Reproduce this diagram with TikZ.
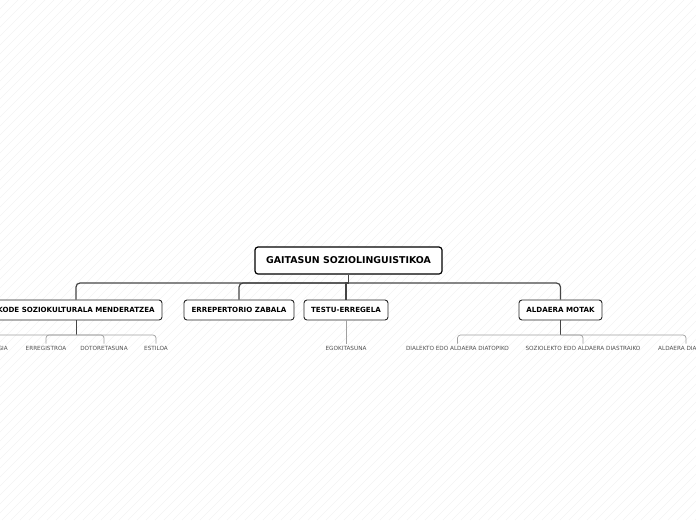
\documentclass[tikz,border=0pt]{standalone}
\usepackage{fontspec}
\setmainfont{DejaVu Sans}
\definecolor{conndark}{HTML}{454545}
\definecolor{connlight}{HTML}{A0A0A0}
\definecolor{leaftext}{HTML}{505050}
\definecolor{hatch}{HTML}{F3F3F3}
\begin{document}
\begin{tikzpicture}[x=1pt,y=1pt,
  rootbox/.style={draw=black, fill=white, rounded corners=3pt, line width=1.2pt,
    font=\fontsize{9.4}{11}\selectfont\bfseries, minimum height=27pt, inner sep=0pt},
  childbox/.style={draw=black!85, fill=white, rounded corners=3pt, line width=0.9pt,
    font=\fontsize{7.1}{8.5}\selectfont\bfseries, minimum height=20pt, inner sep=0pt},
  leaf/.style={font=\fontsize{5.7}{7}\selectfont, text=leaftext, inner sep=2.5pt},
  mainconn/.style={draw=conndark, line width=1.2pt, rounded corners=4pt},
  subconn/.style={draw=connlight, line width=0.7pt, rounded corners=3pt}]
\useasboundingbox (0,0) rectangle (696,-520);
\begin{scope}
\clip (0,0) rectangle (696,-520);
\foreach \i in {0,9,...,1220} {
  \draw[hatch, line width=0.4pt] (\i-520,-520) -- (\i,0);
}
\end{scope}
% nodes
\node[rootbox, minimum width=187pt] (root) at (348.5,-260.5) {GAITASUN SOZIOLINGUISTIKOA};
\node[childbox, minimum width=172pt] (c1) at (76,-310) {KODE SOZIOKULTURALA MENDERATZEA};
\node[childbox, minimum width=110pt] (c2) at (239,-310) {ERREPERTORIO ZABALA};
\node[childbox, minimum width=84pt] (c3) at (346,-310) {TESTU-ERREGELA};
\node[childbox, minimum width=83pt] (c4) at (560.5,-310) {ALDAERA MOTAK};
% leaves
\node[leaf, anchor=east] (l0) at (10.5,-348.5) {ESTRATEGIA};
\node[leaf] (l1) at (46,-348.5) {ERREGISTROA};
\node[leaf] (l2) at (104,-348.5) {DOTORETASUNA};
\node[leaf] (l3) at (156,-348.5) {ESTILOA};
\node[leaf] (l4) at (346,-348.5) {EGOKITASUNA};
\node[leaf] (l5) at (457.5,-348.5) {DIALEKTO EDO ALDAERA DIATOPIKO};
\node[leaf] (l6) at (583,-348.5) {SOZIOLEKTO EDO ALDAERA DIASTRAIKO};
\node[leaf, anchor=west] (l7) at (655.5,-348.5) {ALDAERA DIAFASIKO};
% hubs
\coordinate (hub) at (348.5,-283);
\coordinate (hub1) at (76,-335);
\coordinate (hub4) at (560.5,-335);
% main connectors
\draw[mainconn] (root.south) -- (hub);
\draw[mainconn] (hub) -| (c1.north);
\draw[mainconn] (hub) -| (c2.north);
\draw[mainconn] (hub) -| (c4.north);
\draw[mainconn, rounded corners=0pt] (c3.north) -- (c3.north |- hub) -- (hub);
% sub connectors
\draw[mainconn, line width=0.9pt] (c1.south) -- (hub1);
\draw[subconn] (hub1) -| ([xshift=-10pt]l0.north);
\draw[subconn] (hub1) -| (l1.north);
\draw[subconn] (hub1) -| (l2.north);
\draw[subconn] (hub1) -| (l3.north);
\draw[subconn] (c3.south) -- (l4.north);
\draw[mainconn, line width=0.9pt] (c4.south) -- (hub4);
\draw[subconn] (hub4) -| (l5.north);
\draw[subconn] (hub4) -| (l6.north);
\draw[subconn] (hub4) -| ([xshift=30.5pt]l7.north west);
\end{tikzpicture}
\end{document}
